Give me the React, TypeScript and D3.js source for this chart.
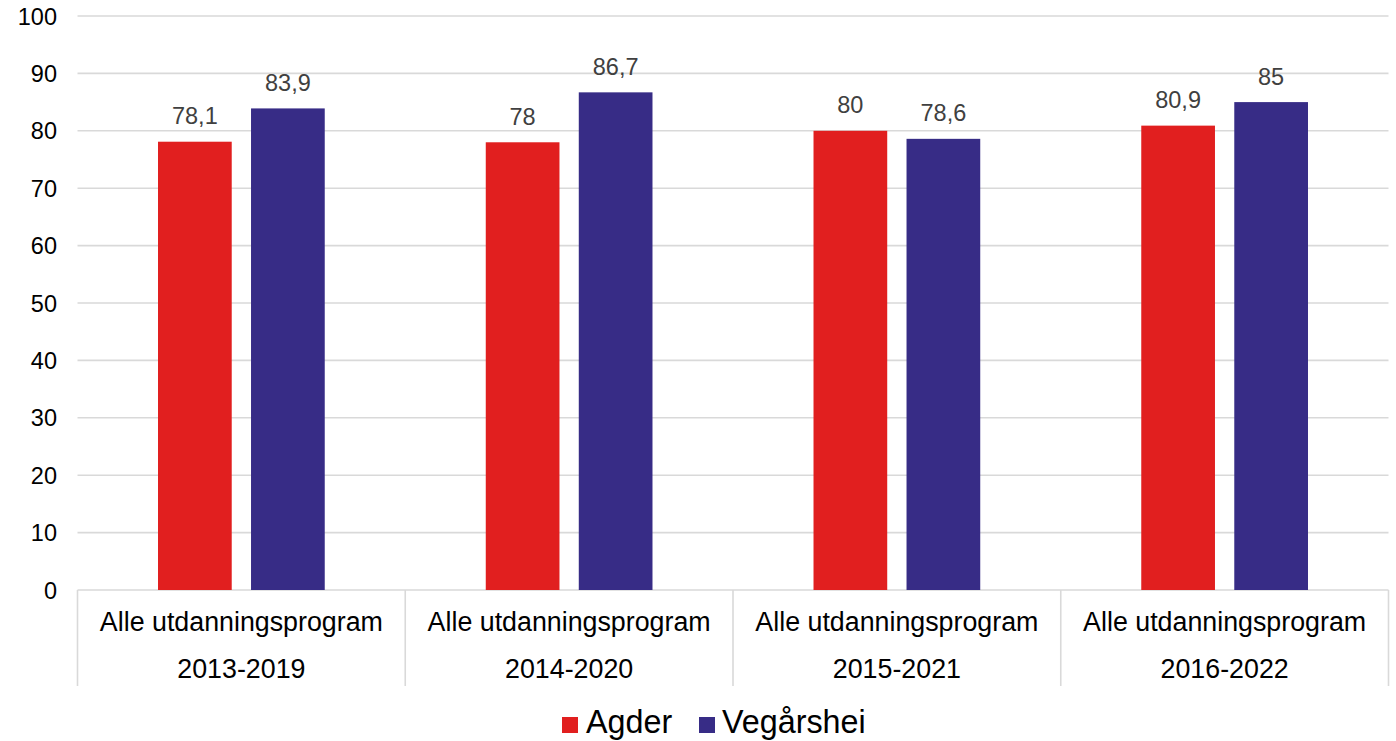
import React from "react";
import * as d3 from "d3";

const categories = ["2013-2019", "2014-2020", "2015-2021", "2016-2022"];
const categoryLine1 = "Alle utdanningsprogram";
const seriesNames = ["Agder", "Vegårshei"];
const agder = [78.1, 78, 80, 80.9];
const vegarshei = [83.9, 86.7, 78.6, 85];
const yTicks = [0, 10, 20, 30, 40, 50, 60, 70, 80, 90, 100];
const colors = ["#E11F1F", "#372C86"];

const W = 1396;
const H = 741;
const left = 77.5;
const right = 1388.5;
const top = 16;
const bottom = 590;

const fmt = (v: number) => String(v).replace(".", ",");

export default function App() {
  const x = d3.scaleBand<string>().domain(categories).range([left, right]).padding(0);
  const y = d3.scaleLinear().domain([0, 100]).range([bottom, top]);
  const bw = x.bandwidth();
  const barW = bw * 0.2249;
  const gap = bw * 0.0589;
  const series = [agder, vegarshei];
  const font = "'Liberation Sans', Arial, sans-serif";

  return (
    <svg width={W} height={H} style={{ position: "absolute", left: 0, top: 0 }} fontFamily={font}>
      <rect width={W} height={H} fill="#fff" />
      {yTicks.map((t) => (
        <g key={t}>
          {t > 0 && (
            <line x1={left} x2={right} y1={y(t)} y2={y(t)} stroke="#d9d9d9" strokeWidth={1.6} />
          )}
          <text x={57} y={y(t) + 8.5} textAnchor="end" fontSize={23.5} fill="#000">
            {t}
          </text>
        </g>
      ))}
      <line x1={left} x2={right} y1={bottom} y2={bottom} stroke="#d9d9d9" strokeWidth={1.6} />
      {[...categories.map((c) => x(c) as number), right].map((xx, i) => (
        <line key={i} x1={xx} x2={xx} y1={bottom} y2={686} stroke="#d9d9d9" strokeWidth={1.6} />
      ))}
      {categories.map((c, i) => {
        const cx = (x(c) as number) + bw / 2;
        return (
          <g key={c}>
            {series.map((s, si) => {
              const bx = si === 0 ? cx - gap / 2 - barW : cx + gap / 2;
              return (
                <g key={si}>
                  <rect x={bx} y={y(s[i])} width={barW} height={bottom - y(s[i])} fill={colors[si]} />
                  <text
                    x={bx + barW / 2}
                    y={y(s[i]) - 17.5}
                    textAnchor="middle"
                    fontSize={23.5}
                    fill="#404040"
                  >
                    {fmt(s[i])}
                  </text>
                </g>
              );
            })}
            <text x={cx} y={630.5} textAnchor="middle" fontSize={26.8} fill="#000">
              {categoryLine1}
            </text>
            <text x={cx} y={678} textAnchor="middle" fontSize={26.8} fill="#000">
              {c}
            </text>
          </g>
        );
      })}
      <g>
        <rect x={562} y={717} width={16} height={16} fill={colors[0]} />
        <text x={586} y={733} fontSize={32.3} fill="#000">
          {seriesNames[0]}
        </text>
        <rect x={699} y={717} width={16} height={16} fill={colors[1]} />
        <text x={722} y={733} fontSize={32.3} fill="#000">
          {seriesNames[1]}
        </text>
      </g>
    </svg>
  );
}
